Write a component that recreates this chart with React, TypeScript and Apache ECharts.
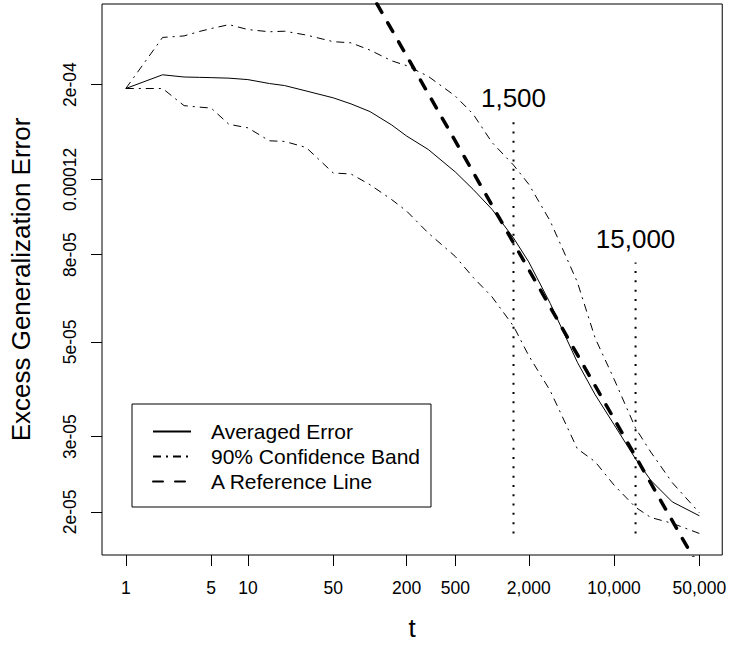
import React, { useEffect, useRef } from "react";
import * as echarts from "echarts";

const FONT = "'Liberation Sans', Arial, Helvetica, sans-serif";

// x: t (log scale), y: excess generalization error (log scale)
const tValues = [1, 2, 3, 4, 5, 7, 10, 15, 20, 30, 50, 70, 100, 150, 200, 300, 500, 700, 1000, 1500, 2000, 3000, 5000, 7000, 10000, 15000, 20000, 30000, 50000];
const averagedError = [1.958e-4, 2.108e-4, 2.083e-4, 2.079e-4, 2.076e-4, 2.07e-4, 2.054e-4, 2.011e-4, 1.989e-4, 1.932e-4, 1.862e-4, 1.802e-4, 1.729e-4, 1.61e-4, 1.515e-4, 1.41e-4, 1.249e-4, 1.137e-4, 1.021e-4, 8.75e-5, 7.69e-5, 6.15e-5, 4.48e-5, 3.76e-5, 3.2e-5, 2.66e-5, 2.37e-5, 2.11e-5, 1.958e-5];
const upperBand = [1.958e-4, 2.578e-4, 2.599e-4, 2.662e-4, 2.704e-4, 2.762e-4, 2.69e-4, 2.658e-4, 2.666e-4, 2.612e-4, 2.52e-4, 2.504e-4, 2.408e-4, 2.274e-4, 2.214e-4, 2.091e-4, 1.88e-4, 1.706e-4, 1.464e-4, 1.296e-4, 1.169e-4, 9.58e-5, 6.9e-5, 5.1e-5, 4.09e-5, 3.14e-5, 2.76e-5, 2.34e-5, 1.99e-5];
const lowerBand = [1.958e-4, 1.958e-4, 1.785e-4, 1.771e-4, 1.762e-4, 1.614e-4, 1.584e-4, 1.477e-4, 1.472e-4, 1.425e-4, 1.242e-4, 1.235e-4, 1.166e-4, 1.077e-4, 1.011e-4, 8.99e-5, 7.92e-5, 7.08e-5, 6.37e-5, 5.44e-5, 4.64e-5, 3.84e-5, 2.81e-5, 2.62e-5, 2.31e-5, 2.05e-5, 1.94e-5, 1.88e-5, 1.78e-5];

// reference line ~ c / sqrt(t)
const refT = [1, 50000];
const refError = [3.3e-3, 1.476e-5];

// vertical dotted markers
const markerT = [1500, 15000];
const markerLow = [1.78e-5, 1.78e-5];
const markerHigh = [1.67e-4, 7.67e-5];
const markerLabels = ["1,500", "15,000"];
const markerLabelY = [1.86e-4, 8.7e-5];

// axes
const xTicks = [1, 5, 10, 50, 200, 500, 2000, 10000, 50000];
const xTickLabels = ["1", "5", "10", "50", "200", "500", "2,000", "10,000", "50,000"];
const yTicks = [2e-5, 3e-5, 5e-5, 8e-5, 1.2e-4, 2e-4];
const yTickLabels = ["2e-05", "3e-05", "5e-05", "8e-05", "0.00012", "2e-04"];
const xRange = [0.638, 76950];
const yRange = [1.585e-5, 3.087e-4];

function nearestLabel(v: number, ticks: number[], labels: string[]) {
  let best = 0;
  let bd = Infinity;
  ticks.forEach((t, i) => {
    const d = Math.abs(Math.log10(t) - Math.log10(v));
    if (d < bd) {
      bd = d;
      best = i;
    }
  });
  return labels[best];
}

export default function App() {
  const ref = useRef<HTMLDivElement>(null);
  useEffect(() => {
    if (!ref.current) return;
    const chart = echarts.init(ref.current, undefined, { renderer: "svg" });
    const pairs = (ys: number[]) => tValues.map((t, i) => [t, ys[i]]);
    const option: any = {
      animation: false,
      backgroundColor: "#ffffff",
      grid: {
        left: 98,
        right: 5,
        top: 4,
        bottom: 81,
        show: true,
        borderColor: "#000",
        borderWidth: 1,
        backgroundColor: "transparent",
      },
      legend: {
        orient: "vertical",
        left: 132,
        top: 404,
        data: ["Averaged Error", "90% Confidence Band", "A Reference Line"],
        itemWidth: 38,
        itemHeight: 14,
        itemGap: 0,
        padding: [15, 11, 13, 20],
        borderColor: "#000",
        borderWidth: 1,
        borderRadius: 0,
        selectedMode: false,
        itemStyle: { opacity: 0 },
        textStyle: { fontSize: 21, color: "#000", fontFamily: FONT, lineHeight: 25, padding: [0, 0, 0, 15] },
      },
      xAxis: {
        type: "log",
        logBase: 10,
        min: xRange[0],
        max: xRange[1],
        name: "t",
        nameLocation: "middle",
        nameGap: 60,
        nameTextStyle: { fontSize: 26, color: "#000", fontFamily: FONT },
        axisLine: { show: false },
        axisTick: { show: true, inside: false, length: 11, customValues: xTicks, lineStyle: { color: "#000", width: 1 } },
        axisLabel: {
          customValues: xTicks,
          formatter: (v: number) => nearestLabel(v, xTicks, xTickLabels),
          fontSize: 17.5,
          color: "#000",
          fontFamily: FONT,
          margin: 24,
        },
        splitLine: { show: false },
        minorTick: { show: false },
      },
      yAxis: {
        type: "log",
        logBase: 10,
        min: yRange[0],
        max: yRange[1],
        name: "Excess Generalization Error",
        nameLocation: "middle",
        nameGap: 68,
        nameRotate: 90,
        nameTextStyle: { fontSize: 26, color: "#000", fontFamily: FONT },
        axisLine: { show: false },
        axisTick: { show: true, inside: false, length: 11, customValues: yTicks, lineStyle: { color: "#000", width: 1 } },
        axisLabel: {
          customValues: yTicks,
          rotate: 90,
          formatter: (v: number) => nearestLabel(v, yTicks, yTickLabels),
          fontSize: 17.5,
          color: "#000",
          fontFamily: FONT,
          margin: 23,
        },
        splitLine: { show: false },
        minorTick: { show: false },
      },
      series: [
        {
          name: "Averaged Error",
          type: "line",
          data: pairs(averagedError),
          symbol: "none",
          lineStyle: { color: "#000", width: 1 },
          itemStyle: { color: "#000" },
        },
        {
          name: "90% Confidence Band",
          type: "line",
          data: pairs(upperBand),
          symbol: "none",
          lineStyle: { color: "#000", width: 1, type: [8, 5, 2, 5] },
          itemStyle: { color: "#000" },
        },
        {
          name: "90% Confidence Band",
          type: "line",
          data: pairs(lowerBand),
          symbol: "none",
          lineStyle: { color: "#000", width: 1, type: [8, 5, 2, 5] },
          itemStyle: { color: "#000" },
        },
        {
          name: "A Reference Line",
          type: "line",
          data: refT.map((t, i) => [t, refError[i]]),
          symbol: "none",
          clip: true,
          lineStyle: { color: "#000", width: 3.5, type: [10, 12], cap: "round" },
          itemStyle: { color: "#000" },
        },
        ...markerT.map((t, i) => ({
          name: "marker" + i,
          type: "line",
          data: [
            [t, markerLow[i]],
            [t, markerHigh[i]],
          ],
          symbol: "none",
          lineStyle: { color: "#000", width: 2, type: [2, 7.3] },
          silent: true,
        })),
        {
          name: "markerLabels",
          type: "scatter",
          data: markerT.map((t, i) => [t, markerLabelY[i], markerLabels[i]]),
          symbolSize: 0,
          silent: true,
          itemStyle: { opacity: 1, color: "#000" },
          label: {
            show: true,
            position: "inside",
            formatter: (p: any) => p.data[2],
            fontSize: 26,
            color: "#000",
            opacity: 1,
            fontFamily: FONT,
          },
        },
      ],
    };
    chart.setOption(option);
    return () => chart.dispose();
  }, []);
  return (
    <div
      ref={ref}
      style={{ position: "absolute", left: 0, top: 0, width: 729, height: 646, background: "#fff" }}
    />
  );
}
